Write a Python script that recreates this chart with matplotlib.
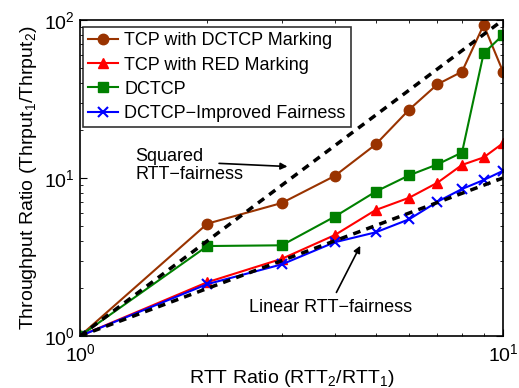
import matplotlib
matplotlib.use("Agg")
import matplotlib.pyplot as plt
from matplotlib.ticker import NullFormatter

plt.rcParams['font.family'] = ['Liberation Sans', 'DejaVu Sans']
plt.rcParams['mathtext.fontset'] = 'custom'
plt.rcParams['mathtext.rm'] = 'Liberation Sans'

rtt_ratio = [1, 2, 3, 4, 5, 6, 7, 8, 9, 10]
tcp_dctcp_marking = [1, 5.14, 6.95, 10.3, 16.3, 27.1, 39.2, 47.1, 93, 47.1]
tcp_red_marking = [1, 2.19, 3.08, 4.35, 6.27, 7.5, 9.34, 12.1, 13.5, 16.6]
dctcp = [1, 3.71, 3.75, 5.69, 8.2, 10.4, 12.2, 14.5, 61.5, 80.4]
dctcp_improved = [1, 2.13, 2.84, 3.92, 4.53, 5.48, 7.08, 8.52, 9.71, 11.1]

# reference fairness lines
fair_x = [1, 10]
linear_fair = [1, 10]
squared_fair = [1, 100]

fig = plt.figure(figsize=(5.19, 3.88), dpi=100)
ax = fig.add_axes([80 / 519, 1 - 336 / 388, 423 / 519, 316 / 388])

ax.plot(rtt_ratio, tcp_dctcp_marking, '-o', color='#993300', lw=1.5, ms=7.5,
        label='TCP with DCTCP Marking')
ax.plot(rtt_ratio, tcp_red_marking, '-^', color='#ff0000', lw=1.5, ms=7.5,
        label='TCP with RED Marking')
ax.plot(rtt_ratio, dctcp, '-s', color='#008000', lw=1.5, ms=6.5,
        label='DCTCP')
ax.plot(rtt_ratio, dctcp_improved, '-x', color='#0000ff', lw=1.5, ms=7.5,
        mew=1.5, label='DCTCP\u2212Improved Fairness')
ax.plot(fair_x, squared_fair, '--', color='black', lw=2.5, dashes=(2.2, 1.8))
ax.plot(fair_x, linear_fair, '--', color='black', lw=2.5, dashes=(2.2, 1.8))

ax.set_xscale('log')
ax.set_yscale('log')
ax.set_xlim(1, 10)
ax.set_ylim(1, 100)
ax.xaxis.set_minor_formatter(NullFormatter())
ax.yaxis.set_minor_formatter(NullFormatter())
ax.tick_params(which='both', direction='in', top=True, right=True, labelsize=14)
ax.tick_params(which='major', length=5)
ax.tick_params(which='minor', length=2.5)
ax.tick_params(axis='x', pad=5)
for s in ax.spines.values():
    s.set_linewidth(1.2)

ax.set_xlabel('RTT Ratio (RTT$_2$/RTT$_1$)', fontsize=14, labelpad=2)
ax.set_ylabel('Throughput Ratio (Thrput$_1$/Thrput$_2$)', fontsize=14)

ax.text(1.35, 12.0, 'Squared\nRTT\u2212fairness', fontsize=13, ha='left',
        va='center', linespacing=1.15)
ax.annotate('', xy=(3.14, 11.8), xytext=(2.1, 12.4),
            arrowprops=dict(arrowstyle='-|>', color='black', lw=1.2))
ax.annotate('', xy=(4.63, 3.86), xytext=(4.01, 1.82),
            arrowprops=dict(arrowstyle='-|>', color='black', lw=1.2))
ax.text(3.92, 1.51, 'Linear RTT\u2212fairness', fontsize=13, ha='center', va='center')

leg = ax.legend(loc='upper left', bbox_to_anchor=(0.007, 0.978), fontsize=13,
                frameon=True, fancybox=False, edgecolor='black',
                borderaxespad=0, handlelength=1.65, handletextpad=0.35,
                borderpad=0.3, labelspacing=0.4)
leg.get_frame().set_linewidth(1.2)

fig.savefig('out.png', dpi=100)
